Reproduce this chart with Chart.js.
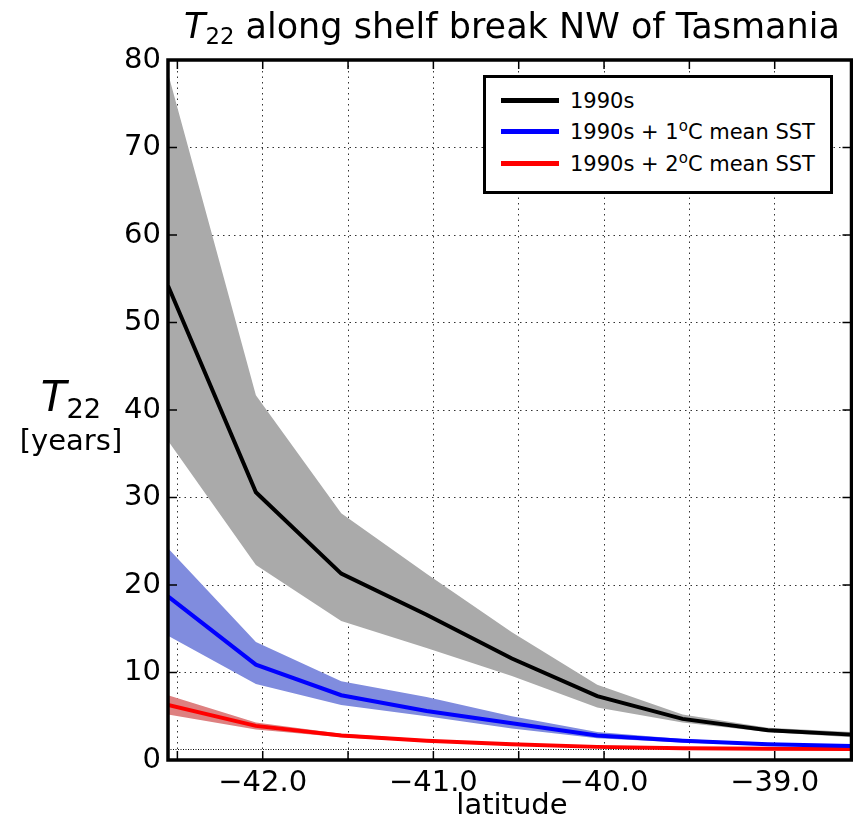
<!DOCTYPE html>
<html>
<head>
<meta charset="utf-8">
<script src="https://cdn.jsdelivr.net/npm/chart.js@4.4.1/dist/chart.umd.min.js"></script>
<style>
    body { margin: 0; background: #fff; }
    #wrap { position: relative; width: 853px; height: 821px; overflow: hidden; font-family: "DejaVu Sans", sans-serif; }
    #chart { position: absolute; left: 0; top: 0; }
    .txt { position: absolute; color: #000; white-space: nowrap; line-height: 1; }
    #title { left: 0; width: 1024px; top: 9px; text-align: center; font-size: 35px; }
    #ylab { left: 0; width: 142px; top: 376px; text-align: center; font-size: 29px; }
    #ylab .big { font-size: 42px; }
    #xlab { left: 0; width: 1024px; top: 790px; text-align: center; font-size: 29px; }
    #legend { position: absolute; left: 483px; top: 75px; width: 344px; height: 113px; border: 3px solid #000; background: #fff; }
    .row { position: absolute; left: 15px; height: 30px; font-size: 21px; line-height: 30px; white-space: nowrap; }
    .sw { display: inline-block; width: 58px; height: 5px; vertical-align: middle; margin-right: 11px; position: relative; top: -2px; }
    sup { font-size: 15px; vertical-align: 8px; line-height: 0; }
    sub { font-size: 0.65em; vertical-align: -0.25em; line-height: 0; }
</style>
</head>
<body>
<div id="wrap">
    <canvas id="chart" width="853" height="821"></canvas>
    <div class="txt" id="title"><i>T</i><sub>22</sub> along shelf break NW of Tasmania</div>
    <div class="txt" id="ylab"><span class="big"><i>T</i><sub>22</sub></span><br><span style="display:inline-block;margin-top:8px">[years]</span></div>
    <div class="txt" id="xlab">latitude</div>
    <div id="legend">
        <div class="row" style="top:8px"><span class="sw" style="background:#000"></span>1990s</div>
        <div class="row" style="top:39px"><span class="sw" style="background:#0000ff"></span>1990s + 1<sup>o</sup>C mean SST</div>
        <div class="row" style="top:71px"><span class="sw" style="background:#ff0000"></span>1990s + 2<sup>o</sup>C mean SST</div>
    </div>
</div>
<script>
// Latitude samples along the shelf break
const latitudes = [-42.555, -42.04, -41.54, -41.04, -40.54, -40.04, -39.54, -39.04, -38.55];

// 1990s
const t22Base = [54.2, 30.6, 21.3, 16.6, 11.6, 7.3, 4.7, 3.4, 2.9];
const t22BaseHigh = [78.5, 41.7, 28.2, 21.3, 14.6, 8.6, 5.2, 3.7, 3.2];
const t22BaseLow = [36.5, 22.3, 15.9, 12.8, 9.6, 6.0, 4.3, 3.2, 2.6];

// 1990s + 1C
const t22Plus1 = [18.7, 10.9, 7.4, 5.6, 4.2, 2.8, 2.2, 1.8, 1.6];
const t22Plus1High = [24.2, 13.5, 9.0, 7.2, 5.0, 3.2, 2.4, 1.9, 1.7];
const t22Plus1Low = [14.2, 8.7, 6.3, 5.0, 3.6, 2.5, 2.0, 1.7, 1.5];

// 1990s + 2C
const t22Plus2 = [6.3, 3.9, 2.8, 2.2, 1.8, 1.5, 1.35, 1.3, 1.25];
const t22Plus2High = [7.4, 4.3, 3.0, 2.35, 1.9, 1.6, 1.45, 1.35, 1.3];
const t22Plus2Low = [5.2, 3.5, 2.6, 2.05, 1.7, 1.4, 1.3, 1.2, 1.15];

// dotted reference level near the bottom
const refLevel = 1.2;

// axes
const xMin = -42.555;
const xMax = -38.55;
const xTicks = [-42.5, -42.0, -41.5, -41.0, -40.5, -40.0, -39.5, -39.0];
const xTickLabels = ['', '\u221242.0', '', '\u221241.0', '', '\u221240.0', '', '\u221239.0'];
const yTicks = [0, 10, 20, 30, 40, 50, 60, 70, 80];

function pts(values) {
    return values.map((v, i) => ({ x: latitudes[i], y: v }));
}

function band(values, color, fill) {
    return {
        data: pts(values),
        borderWidth: 0,
        pointRadius: 0,
        backgroundColor: color,
        fill: fill,
        tension: 0,
        order: 5
    };
}

function line(values, color, width) {
    return {
        data: pts(values),
        borderColor: color,
        borderWidth: width,
        pointRadius: 0,
        fill: false,
        tension: 0,
        order: 1
    };
}

// frame and inward tick marks, matplotlib style
const framePlugin = {
    id: 'frame',
    afterDraw(chart) {
        const { ctx, chartArea: a, scales } = chart;
        ctx.save();
        ctx.strokeStyle = '#000';
        ctx.lineWidth = 1.5;
        ctx.beginPath();
        xTicks.forEach(v => {
            const px = scales.x.getPixelForValue(v);
            ctx.moveTo(px, a.bottom); ctx.lineTo(px, a.bottom - 9);
            ctx.moveTo(px, a.top); ctx.lineTo(px, a.top + 9);
        });
        yTicks.forEach(v => {
            const py = scales.y.getPixelForValue(v);
            ctx.moveTo(a.left, py); ctx.lineTo(a.left + 9, py);
            ctx.moveTo(a.right, py); ctx.lineTo(a.right - 9, py);
        });
        ctx.stroke();
        ctx.lineWidth = 3.5;
        ctx.strokeRect(a.left, a.top, a.right - a.left, a.bottom - a.top);
        ctx.restore();
    }
};

const grid = {
    color: '#333',
    lineWidth: 1,
    drawTicks: false
};
const border = { display: false, dash: [1.5, 4] };

new Chart(document.getElementById('chart'), {
    type: 'line',
    data: {
        datasets: [
            band(t22BaseHigh, 'rgba(170,170,170,1)', '+1'),
            band(t22BaseLow, 'rgba(0,0,0,0)', false),
            band(t22Plus1High, 'rgba(128,140,222,1)', '+1'),
            band(t22Plus1Low, 'rgba(0,0,0,0)', false),
            band(t22Plus2High, 'rgba(222,128,128,1)', '+1'),
            band(t22Plus2Low, 'rgba(0,0,0,0)', false),
            {
                data: [{ x: xMin, y: refLevel }, { x: xMax, y: refLevel }],
                borderColor: '#000',
                borderWidth: 1,
                borderDash: [1, 1.5],
                pointRadius: 0,
                fill: false,
                order: 4
            },
            line(t22Base, '#000000', 4),
            line(t22Plus1, '#0000ff', 4),
            line(t22Plus2, '#ff0000', 4)
        ]
    },
    options: {
        responsive: false,
        devicePixelRatio: 1,
        animation: false,
        layout: { padding: { top: 60, right: 1.5, left: 0, bottom: 0 } },
        plugins: {
            legend: { display: false },
            title: { display: false },
            tooltip: { enabled: false }
        },
        scales: {
            x: {
                type: 'linear',
                min: xMin,
                max: xMax,
                grid: grid,
                border: border,
                afterBuildTicks(scale) {
                    scale.ticks = xTicks.map(v => ({ value: v }));
                },
                afterFit(scale) { scale.height = 61; },
                ticks: {
                    padding: 6,
                    autoSkip: false,
                    maxRotation: 0,
                    color: '#000',
                    font: { family: 'DejaVu Sans', size: 29 },
                    callback: (v, i) => xTickLabels[i]
                }
            },
            y: {
                type: 'linear',
                min: 0,
                max: 80,
                grid: grid,
                border: border,
                afterBuildTicks(scale) {
                    scale.ticks = yTicks.map(v => ({ value: v }));
                },
                afterFit(scale) { scale.width = 168; },
                ticks: {
                    padding: 7,
                    color: '#000',
                    font: { family: 'DejaVu Sans', size: 29 },
                    callback: v => String(v)
                }
            }
        }
    },
    plugins: [framePlugin]
});
</script>
</body>
</html>
